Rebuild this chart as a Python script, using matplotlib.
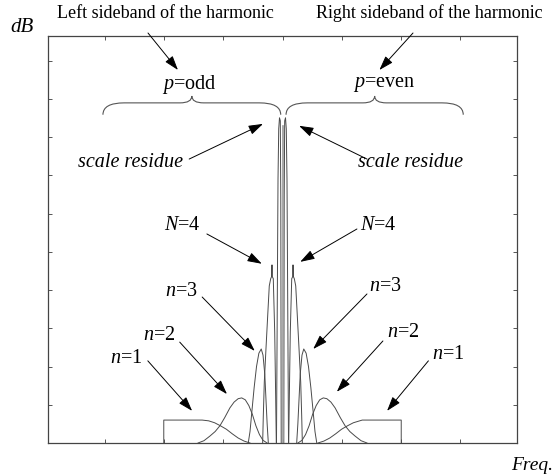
import matplotlib
matplotlib.use("Agg")
import matplotlib.pyplot as plt
from matplotlib.path import Path
from matplotlib.patches import PathPatch

plt.rcParams['font.family'] = ['Liberation Serif', 'DejaVu Serif']
plt.rcParams['mathtext.fontset'] = 'custom'
plt.rcParams['mathtext.rm'] = 'Liberation Serif'
plt.rcParams['mathtext.it'] = 'Liberation Serif:italic'

# Sideband lobes: frequency offset from the harmonic (tick units) and level (tick units)
n1_left_f = [-2.01, -2.01, -1.36, -1.25, -1.15, -1.05, -0.95, -0.85, -0.75, -0.65, -0.55]
n1_left_db = [0.00, 0.60, 0.60, 0.58, 0.53, 0.45, 0.36, 0.24, 0.13, 0.05, 0.00]
n1_right_f = [0.60, 0.70, 0.80, 0.90, 1.00, 1.10, 1.20, 1.35, 2.01, 2.01]
n1_right_db = [0.00, 0.05, 0.13, 0.24, 0.36, 0.45, 0.53, 0.60, 0.60, 0.00]

n2_left_f = [-1.43, -1.33, -1.23, -1.14, -1.06, -0.98, -0.89, -0.82, -0.75, -0.69,
             -0.63, -0.57, -0.51, -0.45, -0.39, -0.33, -0.26]
n2_left_db = [0.00, 0.06, 0.18, 0.30, 0.45, 0.66, 0.92, 1.07, 1.16, 1.18,
              1.13, 0.98, 0.75, 0.45, 0.22, 0.07, 0.00]
n2_right_f = [0.26, 0.33, 0.39, 0.45, 0.51, 0.57, 0.63, 0.69, 0.75, 0.82,
              0.89, 0.98, 1.06, 1.14, 1.23, 1.33, 1.43]
n2_right_db = [0.00, 0.07, 0.22, 0.45, 0.75, 0.98, 1.13, 1.18, 1.16, 1.07,
               0.92, 0.66, 0.45, 0.30, 0.18, 0.06, 0.00]

n3_left_f = [-0.58, -0.55, -0.52, -0.48, -0.44, -0.40, -0.36, -0.33, -0.30, -0.28, -0.26, -0.24]
n3_left_db = [0.00, 0.30, 0.80, 1.45, 2.00, 2.35, 2.46, 2.30, 1.80, 1.15, 0.50, 0.00]
n3_right_f = [0.24, 0.26, 0.28, 0.30, 0.33, 0.36, 0.40, 0.44, 0.48, 0.52, 0.55, 0.58]
n3_right_db = [0.00, 0.50, 1.15, 1.80, 2.30, 2.46, 2.35, 2.00, 1.45, 0.80, 0.30, 0.00]

n4_left_f = [-0.336, -0.325, -0.308, -0.280, -0.251, -0.224, -0.200, -0.185, -0.178,
             -0.172, -0.156, -0.132, -0.115, -0.105]
n4_left_db = [0.00, 0.71, 1.60, 2.46, 3.32, 4.11, 4.30, 4.35, 4.66,
              4.35, 4.30, 2.91, 1.15, 0.00]
n4_right_f = [0.105, 0.115, 0.132, 0.156, 0.172, 0.178, 0.185, 0.200, 0.224,
              0.251, 0.280, 0.308, 0.325, 0.336]
n4_right_db = [0.00, 1.15, 2.91, 4.30, 4.35, 4.66, 4.35, 4.30, 4.11,
               3.32, 2.46, 1.60, 0.71, 0.00]

res_left_f = [-0.102, -0.088, -0.076, -0.064, -0.051, -0.037, -0.029, -0.022]
res_left_db = [0.00, 3.77, 6.91, 8.22, 8.51, 8.43, 6.39, 0.00]
res_right_f = [0.022, 0.029, 0.037, 0.051, 0.064, 0.076, 0.088, 0.102]
res_right_db = [0.00, 6.39, 8.43, 8.51, 8.22, 6.91, 3.77, 0.00]

carrier_f = [0.0, 0.0]
carrier_db = [0.0, 8.30]

x_ticks = [-3, -2, -1, 0, 1, 2, 3]
y_ticks = [1, 2, 3, 4, 5, 6, 7, 8, 9, 10]

W, H = 555, 477
fig = plt.figure(figsize=(W / 100, H / 100), dpi=100)
ax = fig.add_axes([48 / W, 33 / H, 469 / W, 407 / H])

line_kw = dict(color='#4a4a4a', lw=0.7)
for f, d in [(n1_left_f, n1_left_db), (n1_right_f, n1_right_db),
             (n2_left_f, n2_left_db), (n2_right_f, n2_right_db),
             (n3_left_f, n3_left_db), (n3_right_f, n3_right_db),
             (n4_left_f, n4_left_db), (n4_right_f, n4_right_db),
             (res_left_f, res_left_db), (res_right_f, res_right_db)]:
    ax.plot(f, d, **line_kw)
ax.plot(carrier_f, carrier_db, color='#9a9a9a', lw=1.2)

ax.set_xlim(-3.97, 3.97)
ax.set_ylim(0, 10.65)
ax.set_xticks(x_ticks)
ax.set_yticks(y_ticks)
ax.tick_params(direction='in', length=3, width=0.7, color='#555555',
               top=True, right=True, labelbottom=False, labelleft=False)
for s in ax.spines.values():
    s.set_color('#444444')
    s.set_linewidth(0.9)


def brace(x0, x1, y_end, y_mid, y_tip, r_end=0.36, r_tip=0.2):
    xm = (x0 + x1) / 2
    verts = [(x0, y_end), (x0, y_mid), (x0 + r_end, y_mid),
             (xm - r_tip, y_mid),
             (xm, y_mid), (xm, y_tip),
             (xm, y_mid), (xm + r_tip, y_mid),
             (x1 - r_end, y_mid),
             (x1, y_mid), (x1, y_end)]
    codes = [Path.MOVETO, Path.CURVE3, Path.CURVE3, Path.LINETO,
             Path.CURVE3, Path.CURVE3, Path.CURVE3, Path.CURVE3,
             Path.LINETO, Path.CURVE3, Path.CURVE3]
    ax.add_patch(PathPatch(Path(verts, codes), fc='none', ec='#555555', lw=0.8))


brace(-3.04, -0.03, 8.59, 8.90, 9.08)
brace(0.06, 3.06, 8.59, 8.90, 9.08)

arrow = dict(arrowstyle='-|>,head_length=0.55,head_width=0.18', mutation_scale=16,
             lw=0.7, color='black', shrinkA=0, shrinkB=0)
lab = dict(fontsize=14.5, ha='center', va='center')

ax.text(-1.57, 9.40, '$p$=odd', **lab)
ax.text(1.72, 9.40, '$p$=even', **lab)

ax.annotate('', xy=(-1.77, 9.76), xytext=(148, H - 34), textcoords='figure pixels',
            arrowprops=arrow, annotation_clip=False)
ax.annotate('', xy=(1.64, 9.76), xytext=(413, H - 34), textcoords='figure pixels',
            arrowprops=arrow, annotation_clip=False)
fig.text(165 / W, 1 - 13 / H, 'Left sideband of the harmonic', fontsize=13,
         ha='center', va='center')
fig.text(429 / W, 1 - 13 / H, 'Right sideband of the harmonic', fontsize=13,
         ha='center', va='center')
fig.text(22 / W, 1 - 27 / H, 'dB', fontsize=15, style='italic', ha='center', va='center')
fig.text(532 / W, 11 / H, 'Freq.', fontsize=14, style='italic', ha='center', va='center')

ax.text(-2.58, 7.36, 'scale residue', fontsize=14.5, style='italic', ha='center', va='center')
ax.text(2.16, 7.36, 'scale residue', fontsize=14.5, style='italic', ha='center', va='center')
ax.annotate('', xy=(-0.33, 8.35), xytext=(-1.58, 7.43), arrowprops=arrow)
ax.annotate('', xy=(0.28, 8.30), xytext=(1.43, 7.43), arrowprops=arrow)

labels = [
    ('$N$=4', (-1.70, 5.71), (-1.28, 5.47), (-0.35, 4.69)),
    ('$N$=4', (1.62, 5.71), (1.26, 5.60), (0.30, 4.74)),
    ('$n$=3', (-1.72, 3.98), (-1.36, 3.82), (-0.47, 2.41)),
    ('$n$=3', (1.74, 4.11), (1.43, 3.90), (0.52, 2.46)),
    ('$n$=2', (-2.08, 2.83), (-1.74, 2.64), (-0.94, 1.28)),
    ('$n$=2', (2.04, 2.93), (1.70, 2.67), (0.92, 1.34)),
    ('$n$=1', (-2.64, 2.25), (-2.28, 2.15), (-1.53, 0.84)),
    ('$n$=1', (2.81, 2.33), (2.47, 2.15), (1.77, 0.84)),
]
for text, pos, start, tip in labels:
    ax.text(pos[0], pos[1], text, **lab)
    ax.annotate('', xy=tip, xytext=start, arrowprops=arrow)

fig.savefig('out.png', dpi=100)
